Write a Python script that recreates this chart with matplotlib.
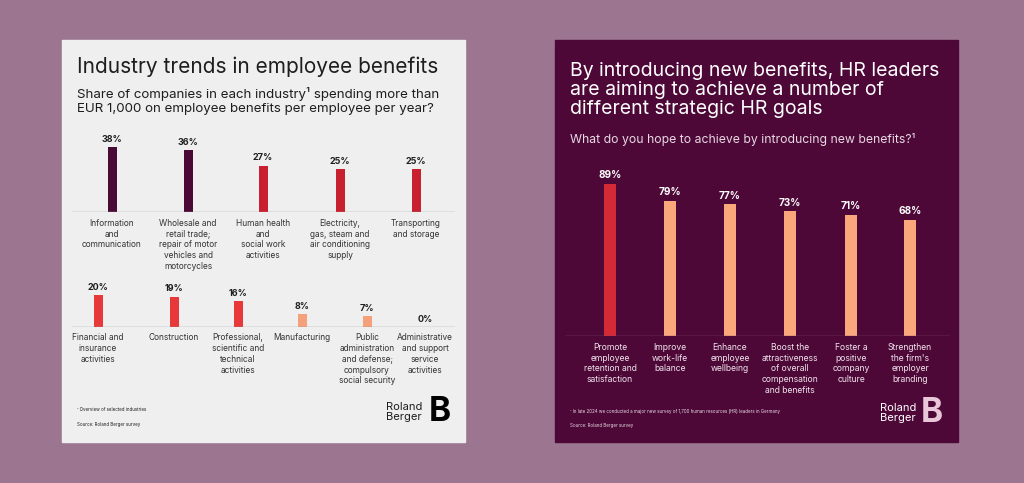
import matplotlib
matplotlib.use("Agg")
import matplotlib.pyplot as plt
from matplotlib.patches import Rectangle

plt.rcParams['font.family'] = ['Inter', 'DejaVu Sans']

# ---- data ----
top_cats = ["Information\nand\ncommunication", "Wholesale and\nretail trade;\nrepair of motor\nvehicles and\nmotorcycles",
            "Human health\nand\nsocial work\nactivities", "Electricity,\ngas, steam and\nair conditioning\nsupply",
            "Transporting\nand storage"]
top_vals = [38, 36, 27, 25, 25]
bot_cats = ["Financial and\ninsurance\nactivities", "Construction", "Professional,\nscientific and\ntechnical\nactivities",
            "Manufacturing", "Public\nadministration\nand defense;\ncompulsory\nsocial security",
            "Administrative\nand support\nservice\nactivities"]
bot_vals = [20, 19, 16, 8, 7, 0]
goal_cats = ["Promote\nemployee\nretention and\nsatisfaction", "Improve\nwork-life\nbalance", "Enhance\nemployee\nwellbeing",
             "Boost the\nattractiveness\nof overall\ncompensation\nand benefits", "Foster a\npositive\ncompany\nculture",
             "Strengthen\nthe firm's\nemployer\nbranding"]
goal_vals = [89, 79, 77, 73, 71, 68]

W, H = 1024, 483
fig = plt.figure(figsize=(W/100, H/100), dpi=100)
fig.patch.set_facecolor('#9C7690')

def rect(x0, y0, x1, y1):
    return [x0/W, 1-y1/H, (x1-x0)/W, (y1-y0)/H]

def ft(x, y, s, **kw):
    fig.text(x/W, 1-y/H, s, **kw)

fig.patches.append(Rectangle((62/W, 1-442/H), 403/W, 402/H, transform=fig.transFigure, color='#EFEFEF', zorder=-5))
fig.patches.append(Rectangle((555/W, 1-442/H), 403/W, 402/H, transform=fig.transFigure, color='#4D0838', zorder=-5))

dark = '#1E1E1E'
ft(77, 67, "Industry trends in employee benefits", fontsize=15, color=dark, va='center')
ft(77, 101, "Share of companies in each industry¹ spending more than\nEUR 1,000 on employee benefits per employee per year?",
   fontsize=9.6, color=dark, va='center', linespacing=1.15)

def row(x0, x1, ybase, pxper, pos, vals, cats, colors, bg, tcol, lcol, lsize=6.0, vsize=6.5):
    top = ybase - 100*pxper
    ax = fig.add_axes(rect(x0, top, x1, ybase), zorder=3)
    ax.set_xlim(x0, x1); ax.set_ylim(0, 100)
    ax.axis('off')
    ax.bar(pos, vals, width=9 if bg == 'l' else 12, color=colors)
    ax.axhline(0, color='#999999' if bg == 'l' else '#8A5078', lw=1)
    for p, v, c in zip(pos, vals, cats):
        ax.text(p, v + 2, f"{v}%", ha='center', va='bottom', fontsize=vsize, fontweight='bold', color=tcol)
        ax.text(p, -4, c, ha='center', va='top', fontsize=lsize, color=lcol, linespacing=1.25, clip_on=False)
    return ax

row(72, 455, 212, 1.71, [112, 188, 263, 340, 416], top_vals, top_cats,
    ['#4A0A36', '#4A0A36', '#C8202F', '#C8202F', '#C8202F'], 'l', dark, '#333333')
row(72, 455, 327, 1.6, [98, 174, 238, 302, 367, 425], bot_vals, bot_cats,
    ['#E8393A', '#E8393A', '#E8393A', '#F4A07A', '#F4A07A', '#F4A07A'], 'l', dark, '#333333')

ft(77, 411, "¹ Overview of selected industries", fontsize=3.2, color=dark)
ft(77, 426, "Source: Roland Berger survey", fontsize=3.2, color=dark)
ft(386, 412, "Roland\nBerger", fontsize=8, color=dark, va='center', linespacing=1.0)
ft(440, 412, "B", fontsize=24, color='black', fontweight='bold', va='center', ha='center')

# right panel
ft(570, 90, "By introducing new benefits, HR leaders\nare aiming to achieve a number of\ndifferent strategic HR goals",
   fontsize=14, color='white', va='center', linespacing=1.1)
ft(570, 139, "What do you hope to achieve by introducing new benefits?¹", fontsize=8.8, color='#E8D8E2', va='center')
row(565, 950, 336, 1.71, [610, 670, 730, 790, 851, 910], goal_vals, goal_cats,
    ['#D42A35'] + ['#F9A77B']*5, 'd', 'white', '#F0E4EC', lsize=6.2, vsize=7.2)
ft(570, 413, "¹ In late 2024 we conducted a major new survey of 1,700 human resources (HR) leaders in Germany",
   fontsize=3.2, color='#E8D8E2')
ft(570, 427, "Source: Roland Berger survey", fontsize=3.2, color='#E8D8E2')
ft(880, 413, "Roland\nBerger", fontsize=8, color='white', va='center', linespacing=1.0)
ft(932, 413, "B", fontsize=24, color='#E8C8D8', fontweight='bold', va='center', ha='center')

fig.savefig("out.png", dpi=100, facecolor=fig.get_facecolor())
